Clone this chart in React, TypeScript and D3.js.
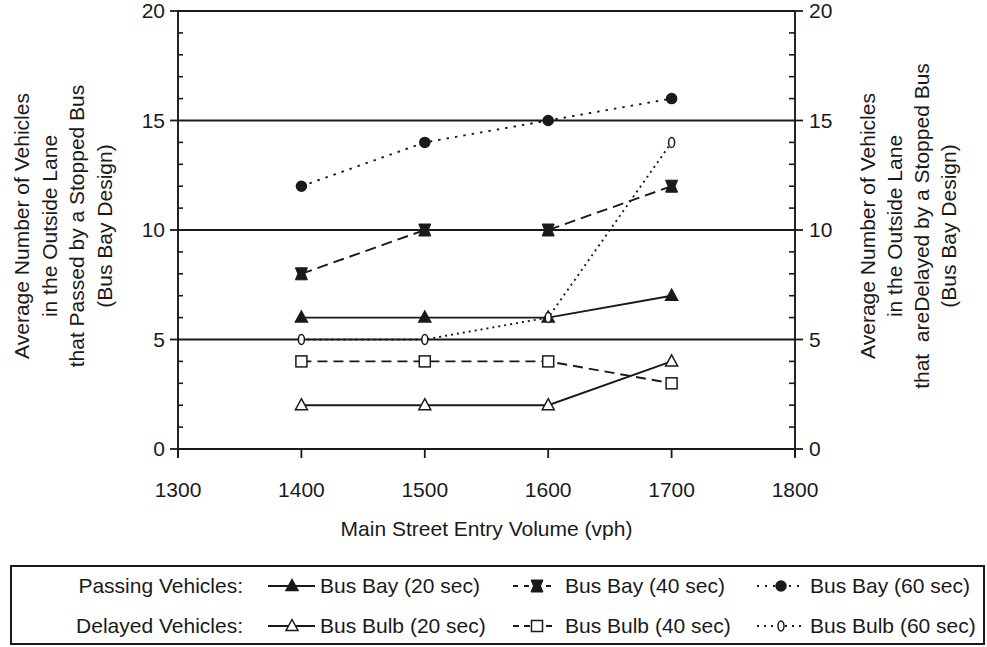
import * as d3 from "d3";

// x values: main street entry volume (vph)
const volumes = [1400, 1500, 1600, 1700];

// passing vehicles (bus bay)
const busBay20 = [6, 6, 6, 7];
const busBay40 = [8, 10, 10, 12];
const busBay60 = [12, 14, 15, 16];

// delayed vehicles (bus bulb)
const busBulb20 = [2, 2, 2, 4];
const busBulb40 = [4, 4, 4, 3];
const busBulb60 = [5, 5, 6, 14];

const xTicks = [1300, 1400, 1500, 1600, 1700, 1800];
const yTicks = [0, 5, 10, 15, 20];

const leftTitle = [
  "Average Number of Vehicles",
  "in the Outside Lane",
  "that Passed by a Stopped Bus",
  "(Bus Bay Design)",
];
const rightTitle = [
  "Average Number of Vehicles",
  "in the Outside Lane",
  "that  areDelayed by a Stopped Bus",
  "(Bus Bay Design)",
];

type Marker = "triangle" | "bowtie" | "circle" | "square" | "oval";

interface Series {
  name: string;
  values: number[];
  dash: string;
  legendDash: string;
  marker: Marker;
  filled: boolean;
}

const series: Series[] = [
  { name: "Bus Bay (20 sec)", values: busBay20, dash: "none", legendDash: "none", marker: "triangle", filled: true },
  { name: "Bus Bay (40 sec)", values: busBay40, dash: "11 6", legendDash: "5 6", marker: "bowtie", filled: true },
  { name: "Bus Bay (60 sec)", values: busBay60, dash: "2.5 6", legendDash: "2 6", marker: "circle", filled: true },
  { name: "Bus Bulb (20 sec)", values: busBulb20, dash: "none", legendDash: "none", marker: "triangle", filled: false },
  { name: "Bus Bulb (40 sec)", values: busBulb40, dash: "10 6", legendDash: "6 5", marker: "square", filled: false },
  { name: "Bus Bulb (60 sec)", values: busBulb60, dash: "2 4", legendDash: "2 5", marker: "oval", filled: false },
];

const rowLabels = ["Passing Vehicles:", "Delayed Vehicles:"];

const FONT = "'Liberation Sans', Arial, Helvetica, sans-serif";
const INK = "#1a1a1a";
const FS = 21;

const W = 987;
const H = 647;
const plot = { left: 178, right: 795, top: 11, bottom: 449 };

function MarkerShape({ type, filled, x, y }: { type: Marker; filled: boolean; x: number; y: number }) {
  const fill = filled ? INK : "#fff";
  const common = { fill, stroke: INK, strokeWidth: 1.5 };
  if (type === "triangle") {
    return <path d={`M${x},${y - 6.5} L${x + 6},${y + 4.5} L${x - 6},${y + 4.5} Z`} {...common} />;
  }
  if (type === "bowtie") {
    return (
      <path
        d={`M${x - 6},${y - 6} L${x + 6},${y - 6} L${x + 3.5},${y} L${x + 6},${y + 6} L${x - 6},${y + 6} L${x - 3.5},${y} Z`}
        fill={INK}
        stroke={INK}
        strokeWidth={1}
      />
    );
  }
  if (type === "circle") {
    return <circle cx={x} cy={y} r={5} {...common} />;
  }
  if (type === "square") {
    return <rect x={x - 5.5} y={y - 5.5} width={11} height={11} {...common} />;
  }
  return <ellipse cx={x} cy={y} rx={3} ry={5} {...common} />;
}

export default function App() {
  const x = d3.scaleLinear().domain([1300, 1800]).range([plot.left, plot.right]);
  const y = d3.scaleLinear().domain([0, 20]).range([plot.bottom, plot.top]);

  const line = d3
    .line<[number, number]>()
    .x((d) => x(d[0]))
    .y((d) => y(d[1]));

  const minorTicks = d3.range(0, 21).filter((v) => v % 5 !== 0);

  const legendSlots = [
    { x0: 268, mx: 292, x1: 315, tx: 320 },
    { x0: 513, mx: 537, x1: 556, tx: 565 },
    { x0: 757, mx: 781, x1: 804, tx: 810 },
  ];
  const rowY = [586, 626];

  const midY = (plot.top + plot.bottom) / 2 - 4;

  return (
    <svg
      width={W}
      height={H}
      style={{ position: "absolute", left: 0, top: 0, background: "#fff", fontFamily: FONT }}
    >
      <rect width={W} height={H} fill="#fff" />

      {/* horizontal gridlines */}
      {yTicks.map((t) => (
        <line key={`g${t}`} x1={plot.left} x2={plot.right} y1={y(t)} y2={y(t)} stroke={INK} strokeWidth={1.8} />
      ))}

      {/* left axis */}
      <line x1={plot.left} x2={plot.left} y1={plot.top} y2={plot.bottom + 8} stroke={INK} strokeWidth={1.9} />
      {yTicks.map((t) => (
        <g key={`ly${t}`}>
          <line x1={plot.left - 8} x2={plot.left} y1={y(t)} y2={y(t)} stroke={INK} strokeWidth={1.8} />
          <text x={plot.left - 13} y={y(t)} dy="0.35em" textAnchor="end" fontSize={FS} fill={INK}>
            {t}
          </text>
        </g>
      ))}
      {minorTicks.map((t) => (
        <line key={`lm${t}`} x1={plot.left} x2={plot.left + 5} y1={y(t)} y2={y(t)} stroke={INK} strokeWidth={1.6} />
      ))}

      {/* right axis */}
      <line x1={plot.right} x2={plot.right} y1={plot.top} y2={plot.bottom + 8} stroke={INK} strokeWidth={1.9} />
      {yTicks.map((t) => (
        <g key={`ry${t}`}>
          <line x1={plot.right} x2={plot.right + 8} y1={y(t)} y2={y(t)} stroke={INK} strokeWidth={1.8} />
          <text x={plot.right + 14} y={y(t)} dy="0.35em" textAnchor="start" fontSize={FS} fill={INK}>
            {t}
          </text>
        </g>
      ))}
      {minorTicks.map((t) => (
        <line key={`rm${t}`} x1={plot.right - 6} x2={plot.right} y1={y(t)} y2={y(t)} stroke={INK} strokeWidth={1.6} />
      ))}

      {/* x axis ticks */}
      {xTicks.map((t) => (
        <g key={`x${t}`}>
          <line x1={x(t)} x2={x(t)} y1={plot.bottom} y2={plot.bottom + 9} stroke={INK} strokeWidth={1.8} />
          <text x={x(t)} y={497} textAnchor="middle" fontSize={FS} fill={INK}>
            {t}
          </text>
        </g>
      ))}
      <text x={(plot.left + plot.right) / 2} y={536} textAnchor="middle" fontSize={FS} fill={INK}>
        Main Street Entry Volume (vph)
      </text>

      {/* left title */}
      <g transform={`translate(29,${midY}) rotate(-90)`}>
        {leftTitle.map((s, i) => (
          <text key={s} x={0} y={i * 27.5} textAnchor="middle" fontSize={FS} fill={INK}>
            {s}
          </text>
        ))}
      </g>
      {/* right title */}
      <g transform={`translate(875,${midY}) rotate(-90)`}>
        {rightTitle.map((s, i) => (
          <text key={s} x={0} y={i * 27} textAnchor="middle" fontSize={FS} fill={INK} style={{ whiteSpace: "pre" }}>
            {s}
          </text>
        ))}
      </g>

      {/* series */}
      {series.map((s) => (
        <g key={s.name}>
          <path
            d={line(volumes.map((v, i) => [v, s.values[i]] as [number, number])) ?? ""}
            fill="none"
            stroke={INK}
            strokeWidth={1.9}
            strokeDasharray={s.dash}
          />
          {volumes.map((v, i) => (
            <MarkerShape key={v} type={s.marker} filled={s.filled} x={x(v)} y={y(s.values[i])} />
          ))}
        </g>
      ))}

      {/* legend */}
      <rect x={11} y={566} width={973} height={78} fill="none" stroke={INK} strokeWidth={2} />
      {rowLabels.map((label, r) => (
        <g key={label}>
          <text x={243} y={rowY[r]} dy="0.35em" textAnchor="end" fontSize={FS} fill={INK}>
            {label}
          </text>
          {series.slice(r * 3, r * 3 + 3).map((s, c) => {
            const slot = legendSlots[c];
            return (
              <g key={s.name}>
                <line
                  x1={slot.x0}
                  x2={slot.x1}
                  y1={rowY[r]}
                  y2={rowY[r]}
                  stroke={INK}
                  strokeWidth={1.8}
                  strokeDasharray={s.legendDash}
                />
                <MarkerShape type={s.marker} filled={s.filled} x={slot.mx} y={rowY[r]} />
                <text x={slot.tx} y={rowY[r]} dy="0.35em" fontSize={FS} fill={INK}>
                  {s.name}
                </text>
              </g>
            );
          })}
        </g>
      ))}
    </svg>
  );
}
